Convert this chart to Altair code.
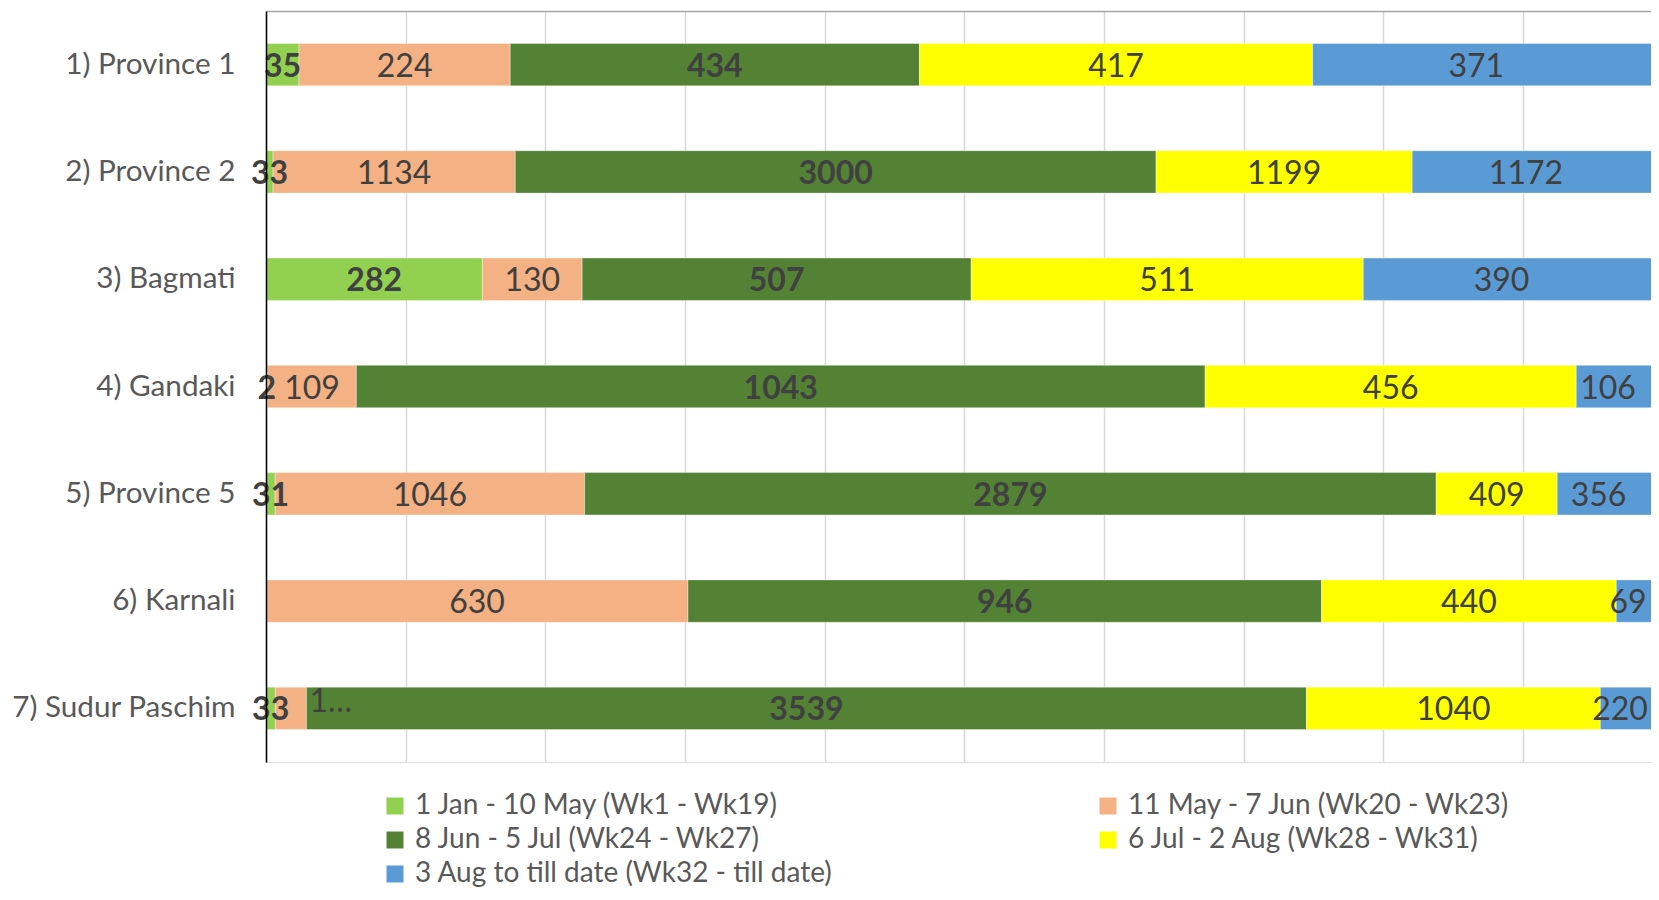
import altair as alt
import pandas as pd

categories = ["1) Province 1", "2) Province 2", "3) Bagmati", "4) Gandaki",
              "5) Province 5", "6) Karnali", "7) Sudur Paschim"]
series = ["1 Jan - 10 May  (Wk1 - Wk19)", "11 May - 7 Jun (Wk20 - Wk23)",
          "8 Jun - 5 Jul (Wk24 - Wk27)", "6 Jul - 2 Aug (Wk28 - Wk31)",
          "3 Aug to till date (Wk32 - till date)"]
colors = ["#92D050", "#F4B183", "#548235", "#FFFF00", "#5B9BD5"]

wk01_19 = [35, 33, 282, 2, 31, None, 33]
wk20_23 = [224, 1134, 130, 109, 1046, 630, 110]
wk24_27 = [434, 3000, 507, 1043, 2879, 946, 3539]
wk28_31 = [417, 1199, 511, 456, 409, 440, 1040]
wk32_on = [371, 1172, 390, 106, 356, 69, 220]

bold_series = [series[0], series[2]]
truncated = [("7) Sudur Paschim", series[1])]

PLOT_W = 1385
X_MAX = PLOT_W / 1396.5  # the right end of the 100% bar is cut off by the frame
X_VIS = X_MAX - 0.008    # keep labels of cut-off segments inside the frame

cols = [wk01_19, wk20_23, wk24_27, wk28_31, wk32_on]
rows = []
for i, cat in enumerate(categories):
    vals = [c[i] for c in cols]
    total = sum(v for v in vals if v is not None)
    cum = 0.0
    for s, v in zip(series, vals):
        if v is None:
            continue
        start = cum / total
        cum += v
        end = cum / total
        rows.append({
            "cat": cat, "series": s, "value": v,
            "start": start, "end": end,
            "mid": (start + min(end, X_VIS)) / 2,
            "label": str(v),
            "bold": s in bold_series,
            "trunc": (cat, s) in truncated,
        })
df = pd.DataFrame(rows)

yenc = alt.Y("cat:N", sort=categories,
             scale=alt.Scale(paddingInner=0.605, paddingOuter=0.3025),
             axis=alt.Axis(title=None, labelFontSize=29.7, labelColor="#595959",
                           labelFont="Lato", labelPadding=31, labelLimit=400, ticks=False,
                           domainColor="#000000", domainWidth=1.5, zindex=1))
xscale = alt.Scale(domain=[0, X_MAX], nice=False)

base = alt.Chart(df)

bars = base.mark_bar(clip=True, stroke="white", strokeWidth=0.6, strokeOpacity=0.6).encode(
    y=yenc,
    x=alt.X("start:Q", scale=xscale,
            axis=alt.Axis(orient="top", values=[i / 10 for i in range(10)],
                          labels=False, ticks=False, title=None,
                          domainColor="#a6a6a6", domainWidth=1.5,
                          gridColor="#d9d9d9", gridWidth=1.5)),
    x2="end:Q",
    color=alt.Color("series:N", sort=series,
                    scale=alt.Scale(domain=series, range=colors),
                    legend=alt.Legend(title=None, orient="none", legendX=115, legendY=781,
                                      direction="horizontal", columns=2,
                                      columnPadding=261, rowPadding=6,
                                      symbolType="square", symbolSize=289,
                                      symbolStrokeWidth=0, labelOffset=6,
                                      labelFontSize=28, labelColor="#595959",
                                      labelFont="Lato", labelLimit=700, padding=0)),
)

txt_normal = base.transform_filter(
    "!datum.bold && !datum.trunc").mark_text(
    fontSize=32, font="Lato", color="#404040", baseline="middle", align="center", dy=2
).encode(y=alt.Y("cat:N", sort=categories), x=alt.X("mid:Q", scale=xscale), text="label:N")

txt_bold = base.transform_filter("datum.bold").mark_text(
    fontSize=32, font="Lato", fontWeight="bold", color="#404040",
    baseline="middle", align="center", dy=2
).encode(y=alt.Y("cat:N", sort=categories), x=alt.X("mid:Q", scale=xscale), text="label:N")

txt_trunc = base.transform_filter("datum.trunc").mark_text(
    fontSize=32, font="Lato", color="#404040", baseline="middle", align="left",
    dx=3, dy=-6, limit=52
).encode(y=alt.Y("cat:N", sort=categories), x=alt.X("end:Q", scale=xscale), text="label:N")

chart = alt.layer(bars, txt_normal, txt_bold, txt_trunc).properties(
    width=PLOT_W, height=751,
    autosize=alt.AutoSizeParams(type="none"),
    padding={"left": 258, "top": 3, "right": 0, "bottom": 125},
).configure_view(stroke="#d9d9d9", strokeWidth=1.5).configure(font="Lato")

chart.save("out.html", embed_options={"renderer": "svg", "actions": False})
